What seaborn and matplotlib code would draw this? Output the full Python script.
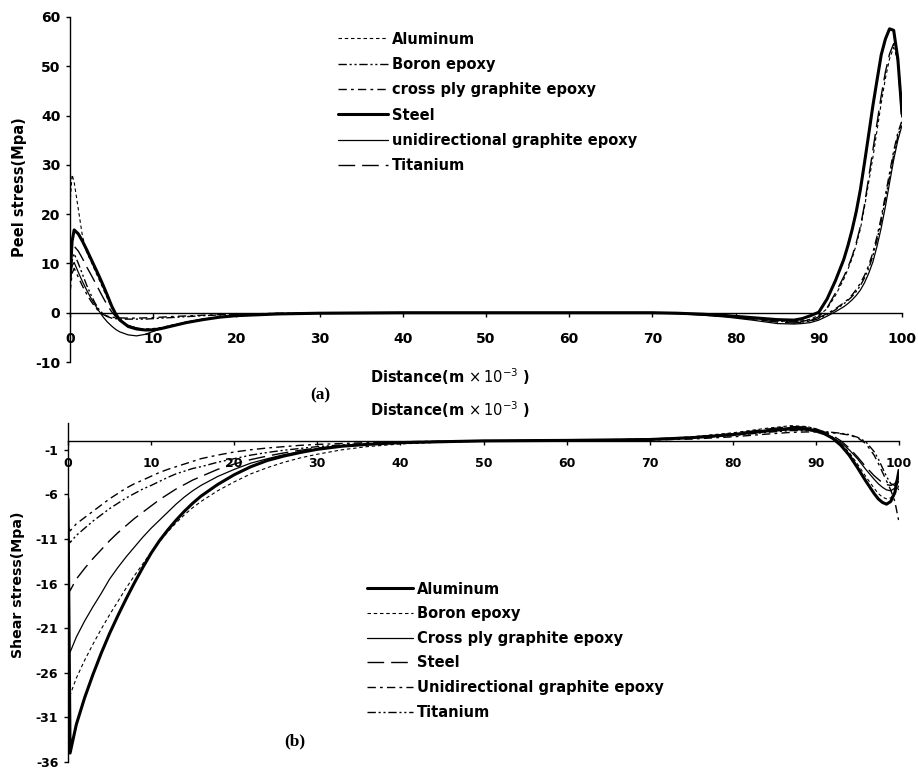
import numpy as np
import pandas as pd
import seaborn as sns
import matplotlib.pyplot as plt

# ---- (a) peel stress ----
x_peel = [0, 0.25, 0.5, 1, 1.5, 2, 2.5, 3, 3.5, 4, 4.5, 5, 5.5, 6, 7, 8, 9, 10,
          11, 12, 14, 16, 18, 20, 25, 30, 40, 50, 60, 70, 73, 76, 79, 82, 85,
          87, 88, 89, 90, 91, 92, 93, 93.5, 94, 94.5, 95, 95.5, 96, 96.5, 97,
          97.5, 98, 98.5, 99, 99.5, 100]

peel_aluminum = [22, 28, 26.5, 21, 15.5, 12.3, 10.5, 8.6, 6.7, 4.8, 2.9, 1.0, -0.5, -1.5,
                 -2.6, -3.1, -3.3, -3.2, -3.0, -2.6, -1.9, -1.3, -0.9, -0.6, -0.25, -0.1,
                 0, 0, 0, 0, -0.1, -0.3, -0.7, -1.1, -1.6, -1.8, -1.7, -1.3, -0.5, 0.8,
                 3.5, 6.8, 8.8, 11.0, 13.8, 17.0, 21.5, 26.5, 31.5, 37, 42.5, 47.5, 51.5,
                 53.8, 51.5, 39]
peel_boron = [5, 10.5, 12, 10, 7.8, 5.6, 3.7, 2.0, 0.6, -0.3, -0.8, -1.1, -1.2, -1.3,
              -1.3, -1.3, -1.3, -1.2, -1.1, -1.0, -0.8, -0.6, -0.45, -0.35, -0.15, -0.05,
              0, 0, 0, 0, -0.1, -0.3, -0.7, -1.2, -1.7, -1.9, -1.9, -1.7, -1.2, -0.4,
              0.6, 1.8, 2.5, 3.3, 4.3, 5.5, 7.1, 9.0, 11.5, 14.8, 18.5, 23, 27.5, 32,
              35.8, 38.5]
peel_crossply = [4, 8, 9, 7.2, 5.4, 3.8, 2.4, 1.2, 0.2, -0.4, -0.7, -0.9, -1.0, -1.05,
                 -1.1, -1.1, -1.05, -1.0, -0.9, -0.8, -0.65, -0.5, -0.4, -0.3, -0.12, -0.05,
                 0, 0, 0, 0, -0.1, -0.25, -0.55, -1.0, -1.5, -1.7, -1.7, -1.5, -1.0, -0.2,
                 0.8, 2.0, 2.7, 3.6, 4.7, 6.0, 7.6, 9.6, 12.2, 15.5, 19.3, 23.8, 28.3, 32.8,
                 36.5, 39]
peel_steel = [7, 14.5, 16.8, 16, 14.5, 12.8, 11, 9.2, 7.4, 5.5, 3.5, 1.4, -0.3, -1.5,
              -2.8, -3.3, -3.5, -3.5, -3.2, -2.8, -2.0, -1.4, -0.9, -0.6, -0.25, -0.1,
              0, 0, 0, 0, -0.1, -0.3, -0.6, -1.0, -1.4, -1.5, -1.2, -0.6, 0.1, 2.8,
              6.5, 10.8, 13.6, 16.8, 20.5, 25.0, 30.5, 36.2, 42, 47.2, 52.3, 55.5, 57.6,
              57.3, 51.5, 40.4]
peel_unidir = [6, 9.5, 10.2, 8.2, 6.3, 4.6, 3.0, 1.6, 0.3, -0.9, -1.9, -2.7, -3.4, -3.9,
               -4.5, -4.7, -4.4, -3.8, -3.2, -2.7, -1.9, -1.3, -0.9, -0.6, -0.25, -0.1,
               0, 0, 0, 0, -0.2, -0.5, -0.9, -1.5, -2.2, -2.3, -2.2, -2.0, -1.5, -0.7,
               0.2, 1.2, 1.85, 2.6, 3.5, 4.6, 6.1, 8.0, 10.3, 13.5, 17.2, 21.5, 26.3, 31,
               35, 38]
peel_titanium = [9, 12.5, 13.5, 12.5, 11, 9.3, 7.8, 6.2, 4.6, 3.0, 1.5, 0.2, -0.8, -1.6,
                 -2.6, -3.1, -3.4, -3.4, -3.1, -2.7, -2.0, -1.4, -0.9, -0.6, -0.25, -0.1,
                 0, 0, 0, 0, -0.1, -0.4, -0.8, -1.3, -1.9, -2.1, -2.0, -1.6, -0.8, 1.0,
                 4.0, 7.3, 9.2, 11.4, 14.2, 17.5, 22, 27.5, 33, 38.5, 44, 48.8, 52.5, 54.6,
                 51, 39]

# ---- (b) shear stress ----
x_shear = [0, 0.25, 1, 2, 3, 4, 5, 6, 7, 8, 9, 10, 11, 12, 13, 14, 15, 16, 18, 20,
           22, 24, 26, 28, 30, 33, 36, 40, 45, 50, 60, 70, 75, 80, 84, 87, 89, 90,
           91, 92, 93, 94, 95, 96, 97, 97.5, 98, 98.5, 99, 99.5, 100]

shear_aluminum = [-6.5, -35, -31.8, -28.8, -26.2, -23.8, -21.6, -19.6, -17.7, -15.9, -14.2,
                  -12.6, -11.2, -10.0, -8.9, -7.9, -7.0, -6.2, -4.9, -3.8, -2.9, -2.2, -1.7,
                  -1.3, -0.95, -0.6, -0.4, -0.2, -0.1, 0, 0.05, 0.15, 0.35, 0.7, 1.1, 1.35,
                  1.3, 1.1, 0.8, 0.3, -0.5, -1.6, -3.0, -4.5, -5.9, -6.5, -6.9, -7.1, -6.8,
                  -5.8, -3.3]
shear_boron = [-27, -28.5, -26.6, -24.6, -22.8, -21.1, -19.5, -18.0, -16.5, -15.1, -13.8,
               -12.5, -11.3, -10.2, -9.2, -8.3, -7.5, -6.8, -5.6, -4.6, -3.7, -3.0, -2.4,
               -1.9, -1.5, -1.0, -0.65, -0.35, -0.15, -0.05, 0.05, 0.2, 0.45, 0.9, 1.4, 1.7,
               1.6, 1.3, 0.9, 0.4, -0.3, -1.3, -2.6, -4.0, -5.3, -5.9, -6.3, -6.5, -6.4,
               -5.9, -5.0]
shear_crossply = [-22.5, -23.7, -22.0, -20.2, -18.6, -17.1, -15.5, -14.2, -13.0, -11.9, -10.8,
                  -9.8, -8.9, -8.0, -7.1, -6.3, -5.6, -5.0, -4.0, -3.2, -2.5, -2.0, -1.55,
                  -1.2, -0.9, -0.6, -0.4, -0.25, -0.1, 0, 0.05, 0.15, 0.35, 0.75, 1.2, 1.5,
                  1.45, 1.2, 0.85, 0.4, -0.2, -1.0, -2.0, -3.2, -4.3, -4.8, -5.2, -5.5, -5.6,
                  -5.3, -4.5]
shear_steel = [-15.8, -16.8, -15.5, -14.3, -13.2, -12.2, -11.2, -10.3, -9.5, -8.7, -8.0,
               -7.3, -6.6, -6.0, -5.4, -4.9, -4.4, -4.0, -3.2, -2.6, -2.1, -1.7, -1.35,
               -1.05, -0.8, -0.55, -0.35, -0.2, -0.1, 0, 0.05, 0.2, 0.4, 0.8, 1.3, 1.6,
               1.55, 1.35, 1.0, 0.6, 0.0, -0.8, -1.8, -2.9, -3.9, -4.3, -4.7, -4.9, -5.0,
               -4.8, -4.0]
shear_unidir = [-9.5, -10.1, -9.3, -8.6, -7.9, -7.2, -6.5, -5.9, -5.3, -4.8, -4.4,
                -3.97, -3.55, -3.2, -2.9, -2.6, -2.3, -2.0, -1.6, -1.25, -1.0, -0.8, -0.65,
                -0.5, -0.4, -0.3, -0.2, -0.1, -0.05, 0, 0.05, 0.1, 0.2, 0.45, 0.75, 0.95,
                1.0, 1.0, 0.95, 0.9, 0.8, 0.65, 0.35, -0.3, -1.6, -2.5, -3.5, -4.5, -5.5,
                -6.8, -9.1]
shear_titanium = [-10.8, -11.4, -10.6, -9.8, -9.0, -8.3, -7.6, -7.0, -6.4, -5.9, -5.4,
                  -5.0, -4.55, -4.1, -3.7, -3.4, -3.1, -2.9, -2.4, -2.0, -1.6, -1.3, -1.05,
                  -0.85, -0.65, -0.45, -0.3, -0.15, -0.05, 0, 0.05, 0.15, 0.3, 0.6, 0.95, 1.15,
                  1.15, 1.1, 1.05, 0.95, 0.85, 0.7, 0.4, -0.1, -1.2, -2.0, -3.0, -4.0, -4.8,
                  -5.0, -5.5]

peel_labels = ["Aluminum", "Boron epoxy", "cross ply graphite epoxy", "Steel",
               "unidirectional graphite epoxy", "Titanium"]
shear_labels = ["Aluminum", "Boron epoxy", "Cross ply graphite epoxy", "Steel",
                "Unidirectional graphite epoxy", "Titanium"]

peel_df = pd.DataFrame({"distance": x_peel, "Aluminum": peel_aluminum, "Boron": peel_boron,
                        "Crossply": peel_crossply, "Steel": peel_steel,
                        "Unidir": peel_unidir, "Titanium": peel_titanium})
shear_df = pd.DataFrame({"distance": x_shear, "Aluminum": shear_aluminum, "Boron": shear_boron,
                         "Crossply": shear_crossply, "Steel": shear_steel,
                         "Unidir": shear_unidir, "Titanium": shear_titanium})
cols = ["Aluminum", "Boron", "Crossply", "Steel", "Unidir", "Titanium"]

# line styles (dash lengths in points)
DOTTED = (0, (2.5, 2))
DASHDOTDOT = (0, (6, 2, 1.5, 2, 1.5, 2))
DASHDOT = (0, (6, 3, 2, 3))
LONGDASH = (0, (12, 5))
peel_styles = {"Aluminum": (DOTTED, 0.8), "Boron": (DASHDOTDOT, 1.0),
               "Crossply": (DASHDOT, 1.0), "Steel": ("-", 2.2),
               "Unidir": ("-", 0.9), "Titanium": (LONGDASH, 1.0)}
shear_styles = {"Aluminum": ("-", 2.2), "Boron": (DOTTED, 0.8),
                "Crossply": ("-", 0.9), "Steel": (LONGDASH, 1.0),
                "Unidir": (DASHDOT, 1.0), "Titanium": (DASHDOTDOT, 1.0)}

sns.set_style("ticks")
plt.rcParams["font.family"] = ["DejaVu Sans"]
plt.rcParams["lines.scale_dashes"] = False
plt.rcParams["axes.unicode_minus"] = False
plt.rcParams["text.color"] = "black"

W, H = 918, 769
fig = plt.figure(figsize=(W / 100, H / 100), dpi=100)
ax_a = fig.add_axes([70 / W, 1 - 362 / H, 832 / W, 345 / H])
ax_b = fig.add_axes([68 / W, 1 - 762 / H, 831 / W, 339 / H])


def draw(ax, df, styles, labels):
    for col, lab in zip(cols, labels):
        ls, lw = styles[col]
        sns.lineplot(data=df, x="distance", y=col, ax=ax, color="black",
                     linewidth=lw, linestyle=ls, label=lab)
    ax.set_xlabel("")
    ax.set_ylabel("")


def style_axis(ax, yticks, ylim, size, xpad):
    ax.set_xlim(0, 100)
    ax.set_ylim(*ylim)
    ax.set_xticks(range(0, 101, 10))
    ax.set_yticks(yticks)
    sns.despine(ax=ax)
    ax.spines["bottom"].set_position(("data", 0))
    for s in ("left", "bottom"):
        ax.spines[s].set_color("black")
        ax.spines[s].set_linewidth(1.0)
    ax.tick_params(axis="both", direction="out", length=3, width=1,
                   color="black", labelsize=size, labelcolor="black")
    ax.tick_params(axis="x", pad=xpad)
    ax.tick_params(axis="y", pad=4)
    for t in ax.get_xticklabels() + ax.get_yticklabels():
        t.set_fontweight("bold")


draw(ax_a, peel_df, peel_styles, peel_labels)
style_axis(ax_a, range(-10, 61, 10), (-10, 60), 10, 11)
ax_a.legend(loc="upper left", bbox_to_anchor=(338 / W, 1 - 31.5 / H),
            bbox_transform=fig.transFigure, frameon=False,
            prop={"weight": "bold", "size": 10.5}, handlelength=3.4,
            handletextpad=0.3, labelspacing=0.71, borderpad=0, borderaxespad=0)

draw(ax_b, shear_df, shear_styles, shear_labels)
style_axis(ax_b, range(-36, 2, 5), (-36, 2), 9, 8.5)
ax_b.legend(loc="upper left", bbox_to_anchor=(367 / W, 1 - 581.5 / H),
            bbox_transform=fig.transFigure, frameon=False,
            prop={"weight": "bold", "size": 10.5}, handlelength=3.15,
            handletextpad=0.3, labelspacing=0.66, borderpad=0, borderaxespad=0)

xlabel = r"Distance(m $\times\,10^{-3}$ )"
fig.text(450 / W, 1 - 377 / H, xlabel, ha="center", va="center",
         fontsize=10.5, fontweight="bold")
fig.text(450 / W, 1 - 410 / H, xlabel, ha="center", va="center",
         fontsize=10.5, fontweight="bold")
fig.text(20 / W, 1 - 187 / H, "Peel stress(Mpa)", rotation=90, ha="center",
         va="center", fontsize=10.5, fontweight="bold")
fig.text(18 / W, 1 - 585 / H, "Shear stress(Mpa)", rotation=90, ha="center",
         va="center", fontsize=10.2, fontweight="bold")
fig.text(320 / W, 1 - 395 / H, "(a)", ha="center", va="center",
         fontsize=12.5, fontweight="bold", family="Liberation Serif")
fig.text(295 / W, 1 - 741 / H, "(b)", ha="center", va="center",
         fontsize=12.5, fontweight="bold", family="Liberation Serif")

fig.savefig("out.png", dpi=100)
